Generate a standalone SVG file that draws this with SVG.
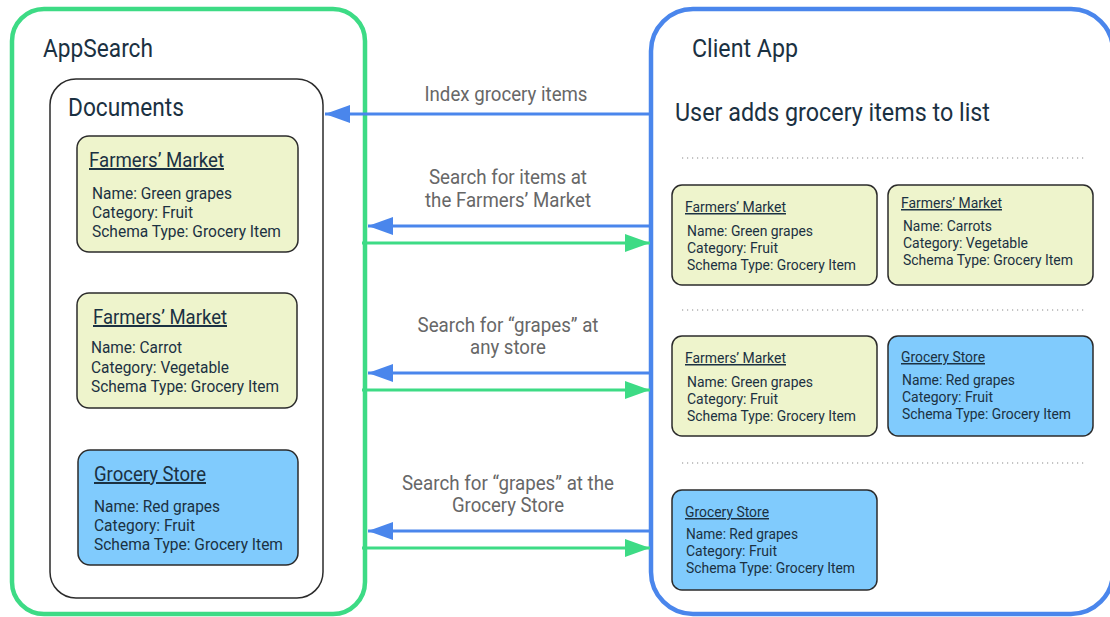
<svg xmlns="http://www.w3.org/2000/svg" width="1110" height="617" viewBox="0 0 1110 617">
  <defs>
    <style>
      text { font-family: Roboto, "Liberation Sans", sans-serif; fill: #1b3142; }
      .h1 { font-size: 26.5px; }
      .dtitle { font-size: 20px; text-decoration: underline; }
      .dbody { font-size: 17px; }
      .ctitle { font-size: 15px; text-decoration: underline; }
      .cbody { font-size: 15.5px; }
      .lbl { font-size: 20px; fill: #676767; text-anchor: middle; }
      .fm { fill: #eef4cc; stroke: #2b2b2b; stroke-width: 1.5; }
      .gs { fill: #80cbfd; stroke: #2b2b2b; stroke-width: 1.5; }
      .dots { stroke: #8a8a8a; stroke-width: 1.2; stroke-dasharray: 1.2 3.8; }
      .req { stroke: #4a86ec; stroke-width: 3; fill: none; }
      .res { stroke: #3ddb85; stroke-width: 3; fill: none; }
    </style>
    <marker id="headBlue" markerUnits="userSpaceOnUse" markerWidth="26" markerHeight="20" refX="25" refY="9" orient="auto">
      <path d="M0,0 L25,9 L0,18 Z" fill="#4a86ec"/>
    </marker>
    <marker id="headGreen" markerUnits="userSpaceOnUse" markerWidth="26" markerHeight="20" refX="25" refY="9" orient="auto">
      <path d="M0,0 L25,9 L0,18 Z" fill="#3ddb85"/>
    </marker>
  </defs>

  <rect width="1110" height="617" fill="#ffffff"/>

  <!-- AppSearch container -->
  <g id="appsearch">
    <rect x="12" y="9" width="353" height="605" rx="32" fill="none" stroke="#3ddb85" stroke-width="4.5"/>
    <text class="h1" x="43" y="57" textLength="110" lengthAdjust="spacingAndGlyphs">AppSearch</text>
  </g>

  <!-- Documents store -->
  <g id="documents">
    <rect x="50" y="79" width="273" height="519" rx="26" fill="#ffffff" stroke="#2b2b2b" stroke-width="1.5"/>
    <text class="h1" x="68" y="116" textLength="116" lengthAdjust="spacingAndGlyphs">Documents</text>
  </g>

  <g id="doc-green-grapes">
    <rect class="fm" x="77" y="136" width="221" height="116" rx="12"/>
    <text class="dtitle" x="89" y="167" textLength="135" lengthAdjust="spacingAndGlyphs">Farmers’ Market</text>
    <text class="dbody" x="92" y="199" textLength="140" lengthAdjust="spacingAndGlyphs">Name: Green grapes</text>
    <text class="dbody" x="92" y="218" textLength="101" lengthAdjust="spacingAndGlyphs">Category: Fruit</text>
    <text class="dbody" x="92" y="237" textLength="189" lengthAdjust="spacingAndGlyphs">Schema Type: Grocery Item</text>
  </g>

  <g id="doc-carrot">
    <rect class="fm" x="77" y="293" width="220" height="115" rx="12"/>
    <text class="dtitle" x="93" y="324" textLength="134" lengthAdjust="spacingAndGlyphs">Farmers’ Market</text>
    <text class="dbody" x="91" y="353" textLength="91" lengthAdjust="spacingAndGlyphs">Name: Carrot</text>
    <text class="dbody" x="91" y="373" textLength="138" lengthAdjust="spacingAndGlyphs">Category: Vegetable</text>
    <text class="dbody" x="91" y="392" textLength="188" lengthAdjust="spacingAndGlyphs">Schema Type: Grocery Item</text>
  </g>

  <g id="doc-red-grapes">
    <rect class="gs" x="78" y="450" width="220" height="115" rx="12"/>
    <text class="dtitle" x="94" y="481" textLength="112" lengthAdjust="spacingAndGlyphs">Grocery Store</text>
    <text class="dbody" x="94" y="512" textLength="126" lengthAdjust="spacingAndGlyphs">Name: Red grapes</text>
    <text class="dbody" x="94" y="531" textLength="101" lengthAdjust="spacingAndGlyphs">Category: Fruit</text>
    <text class="dbody" x="94" y="550" textLength="189" lengthAdjust="spacingAndGlyphs">Schema Type: Grocery Item</text>
  </g>

  <!-- Client App container -->
  <g id="client-app">
    <rect x="651" y="9" width="462" height="605" rx="42" fill="none" stroke="#4a86ec" stroke-width="4.5"/>
    <text class="h1" x="692" y="57" textLength="106" lengthAdjust="spacingAndGlyphs">Client App</text>
    <text class="h1" x="675" y="121" textLength="315" lengthAdjust="spacingAndGlyphs">User adds grocery items to list</text>
    <line class="dots" x1="682" y1="158" x2="1086" y2="158"/>
    <line class="dots" x1="682" y1="310" x2="1086" y2="310"/>
    <line class="dots" x1="682" y1="463" x2="1086" y2="463"/>
  </g>

  <g id="result-1a">
    <rect class="fm" x="672" y="185" width="205" height="100" rx="10"/>
    <text class="ctitle" x="685" y="212" textLength="101" lengthAdjust="spacingAndGlyphs">Farmers’ Market</text>
    <text class="cbody" x="687" y="236" textLength="126" lengthAdjust="spacingAndGlyphs">Name: Green grapes</text>
    <text class="cbody" x="687" y="253" textLength="91" lengthAdjust="spacingAndGlyphs">Category: Fruit</text>
    <text class="cbody" x="687" y="270" textLength="169" lengthAdjust="spacingAndGlyphs">Schema Type: Grocery Item</text>
  </g>

  <g id="result-1b">
    <rect class="fm" x="888" y="185" width="205" height="100" rx="10"/>
    <text class="ctitle" x="901" y="208" textLength="101" lengthAdjust="spacingAndGlyphs">Farmers’ Market</text>
    <text class="cbody" x="903" y="231" textLength="89" lengthAdjust="spacingAndGlyphs">Name: Carrots</text>
    <text class="cbody" x="903" y="248" textLength="125" lengthAdjust="spacingAndGlyphs">Category: Vegetable</text>
    <text class="cbody" x="903" y="265" textLength="170" lengthAdjust="spacingAndGlyphs">Schema Type: Grocery Item</text>
  </g>

  <g id="result-2a">
    <rect class="fm" x="672" y="336" width="205" height="100" rx="10"/>
    <text class="ctitle" x="685" y="363" textLength="101" lengthAdjust="spacingAndGlyphs">Farmers’ Market</text>
    <text class="cbody" x="687" y="387" textLength="126" lengthAdjust="spacingAndGlyphs">Name: Green grapes</text>
    <text class="cbody" x="687" y="404" textLength="91" lengthAdjust="spacingAndGlyphs">Category: Fruit</text>
    <text class="cbody" x="687" y="421" textLength="169" lengthAdjust="spacingAndGlyphs">Schema Type: Grocery Item</text>
  </g>

  <g id="result-2b">
    <rect class="gs" x="888" y="336" width="205" height="100" rx="10"/>
    <text class="ctitle" x="901" y="362" textLength="84" lengthAdjust="spacingAndGlyphs">Grocery Store</text>
    <text class="cbody" x="902" y="385" textLength="113" lengthAdjust="spacingAndGlyphs">Name: Red grapes</text>
    <text class="cbody" x="902" y="402" textLength="91" lengthAdjust="spacingAndGlyphs">Category: Fruit</text>
    <text class="cbody" x="902" y="419" textLength="169" lengthAdjust="spacingAndGlyphs">Schema Type: Grocery Item</text>
  </g>

  <g id="result-3a">
    <rect class="gs" x="672" y="490" width="205" height="100" rx="10"/>
    <text class="ctitle" x="685" y="517" textLength="84" lengthAdjust="spacingAndGlyphs">Grocery Store</text>
    <text class="cbody" x="686" y="539" textLength="112" lengthAdjust="spacingAndGlyphs">Name: Red grapes</text>
    <text class="cbody" x="686" y="556" textLength="91" lengthAdjust="spacingAndGlyphs">Category: Fruit</text>
    <text class="cbody" x="686" y="573" textLength="169" lengthAdjust="spacingAndGlyphs">Schema Type: Grocery Item</text>
  </g>

  <!-- Requests (blue) and responses (green) -->
  <g id="connectors">
    <line class="req" x1="651" y1="114" x2="325" y2="114" marker-end="url(#headBlue)"/>
    <text class="lbl" x="506" y="101" textLength="163" lengthAdjust="spacingAndGlyphs">Index grocery items</text>

    <text class="lbl" x="508" y="184" textLength="158" lengthAdjust="spacingAndGlyphs">Search for items at</text>
    <text class="lbl" x="508" y="207" textLength="166" lengthAdjust="spacingAndGlyphs">the Farmers’ Market</text>
    <line class="req" x1="651" y1="226" x2="368" y2="226" marker-end="url(#headBlue)"/>
    <line class="res" x1="362" y1="243" x2="650" y2="243" marker-end="url(#headGreen)"/>

    <text class="lbl" x="508" y="332" textLength="181" lengthAdjust="spacingAndGlyphs">Search for “grapes” at</text>
    <text class="lbl" x="508" y="354" textLength="76" lengthAdjust="spacingAndGlyphs">any store</text>
    <line class="req" x1="651" y1="373" x2="368" y2="373" marker-end="url(#headBlue)"/>
    <line class="res" x1="362" y1="390" x2="650" y2="390" marker-end="url(#headGreen)"/>

    <text class="lbl" x="508" y="490" textLength="212" lengthAdjust="spacingAndGlyphs">Search for “grapes” at the</text>
    <text class="lbl" x="508" y="512" textLength="112" lengthAdjust="spacingAndGlyphs">Grocery Store</text>
    <line class="req" x1="651" y1="531" x2="368" y2="531" marker-end="url(#headBlue)"/>
    <line class="res" x1="362" y1="548" x2="650" y2="548" marker-end="url(#headGreen)"/>
  </g>
</svg>
